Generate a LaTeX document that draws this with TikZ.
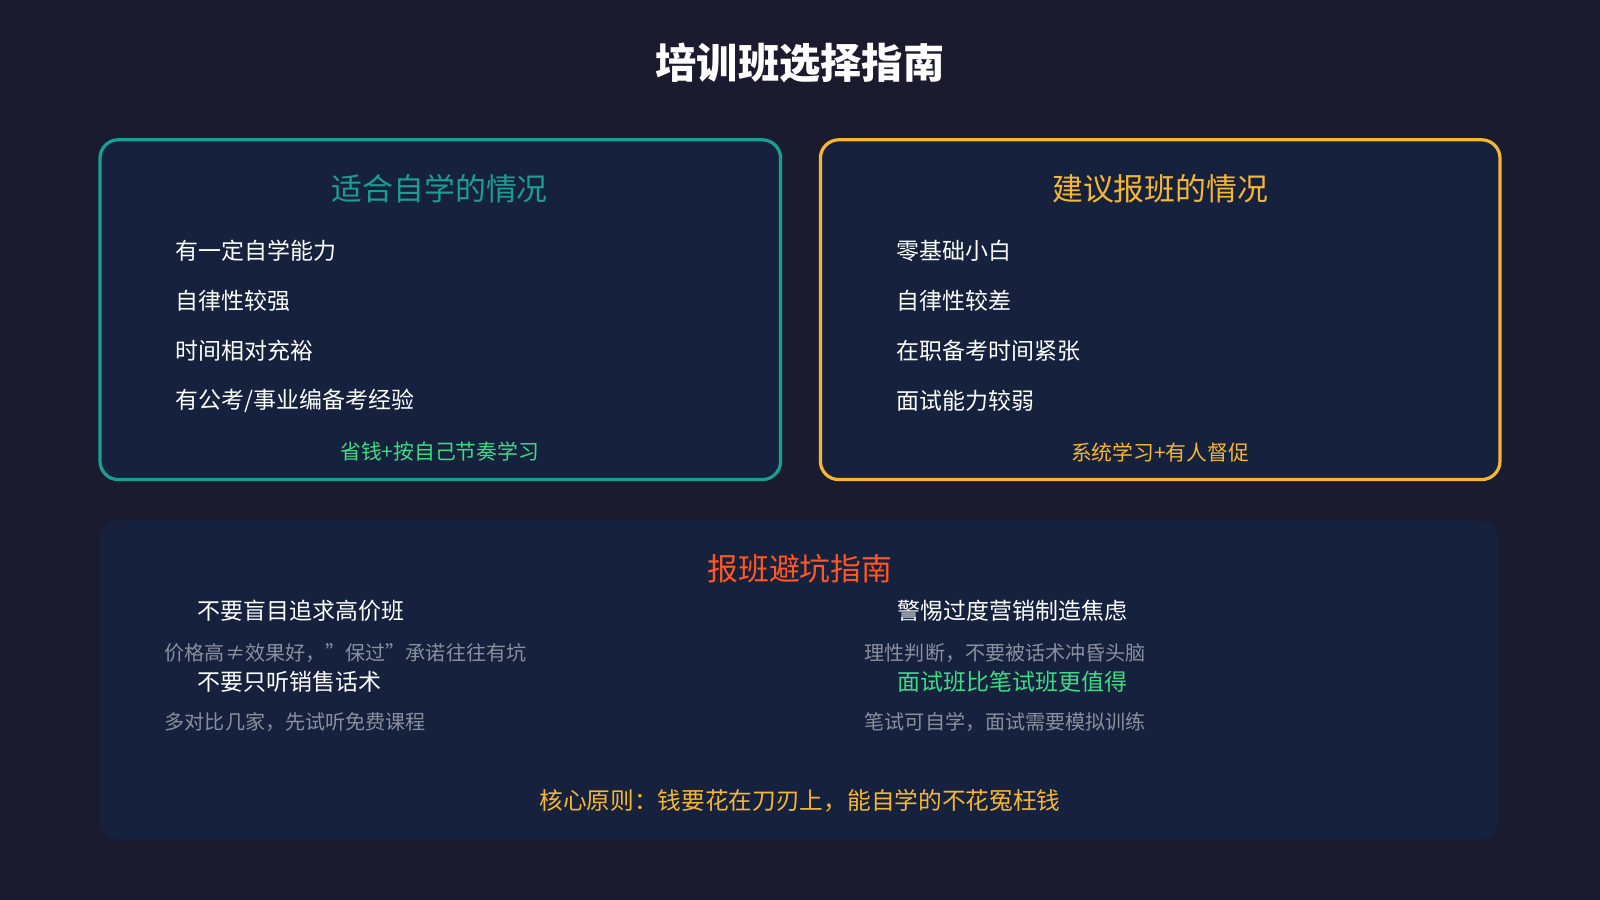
\documentclass[tikz,border=0pt]{standalone}
\usepackage{fontspec}
\setmainfont{Noto Sans CJK SC}
\usetikzlibrary{positioning}
\definecolor{bgcol}{HTML}{1A1B2E}
\definecolor{panelcol}{HTML}{16213E}
\definecolor{tealcol}{HTML}{1A9E8F}
\definecolor{goldcol}{HTML}{F5B731}
\definecolor{greencol}{HTML}{3DDC84}
\definecolor{redcol}{HTML}{FF5722}
\definecolor{graycol}{HTML}{8A8F9E}
\tikzset{
  panel/.style={rounded corners=0.18cm, fill=panelcol},
  boxtitle/.style={font=\fontsize{8.6}{10}\selectfont},
  item/.style={anchor=west, text=white, font=\fontsize{6.4}{8}\selectfont},
  note/.style={anchor=west, text=graycol, font=\fontsize{5.6}{7}\selectfont},
  foot/.style={font=\fontsize{5.8}{7}\selectfont}
}
\begin{document}
\begin{tikzpicture}[x=0.01cm,y=-0.01cm]
        \fill [bgcol] (0,0) rectangle (1568,882);
        \node [text=white, font=\fontsize{11.5}{13}\bfseries\selectfont] at (784,62) (title){培训班选择指南};

        % two upper boxes
        \draw [panel, draw=tealcol, line width=0.9pt] (98,137) rectangle (765,470);
        \draw [panel, draw=goldcol, line width=0.9pt] (804,137) rectangle (1470,470);
        \node [boxtitle, text=tealcol] at (431,185) (selft){适合自学的情况};
        \node [boxtitle, text=goldcol] at (1137,185) (classt){建议报班的情况};

        \node [item] at (160,246) (s1){有一定自学能力};
        \node [item] at (160,295) (s2){自律性较强};
        \node [item] at (160,344) (s3){时间相对充裕};
        \node [item] at (160,393) (s4){有公考/事业编备考经验};
        \node [item] at (866,246) (c1){零基础小白};
        \node [item] at (866,295) (c2){自律性较差};
        \node [item] at (866,344) (c3){在职备考时间紧张};
        \node [item] at (866,393) (c4){面试能力较弱};

        \node [foot, text=greencol] at (431,443) (selff){省钱+按自己节奏学习};
        \node [foot, text=goldcol] at (1137,443) (classf){系统学习+有人督促};

        % lower box
        \fill [panel] (98,510) rectangle (1468,822);
        \node [boxtitle, text=redcol] at (784,557) (warnt){报班避坑指南};

        \node [item] at (181,599) (w1){不要盲目追求高价班};
        \node [note] at (149,640) (n1){价格高≠效果好，"保过"承诺往往有坑};
        \node [item] at (181,668) (w2){不要只听销售话术};
        \node [note] at (149,708) (n2){多对比几家，先试听免费课程};
        \node [item] at (867,599) (w3){警惕过度营销制造焦虑};
        \node [note] at (835,640) (n3){理性判断，不要被话术冲昏头脑};
        \node [item, text=greencol] at (867,668) (w4){面试班比笔试班更值得};
        \node [note] at (835,708) (n4){笔试可自学，面试需要模拟训练};

        \node [foot, text=goldcol, font=\fontsize{6.6}{8}\selectfont] at (784,785) (rule){核心原则：钱要花在刀刃上，能自学的不花冤枉钱};
\end{tikzpicture}
\end{document}
